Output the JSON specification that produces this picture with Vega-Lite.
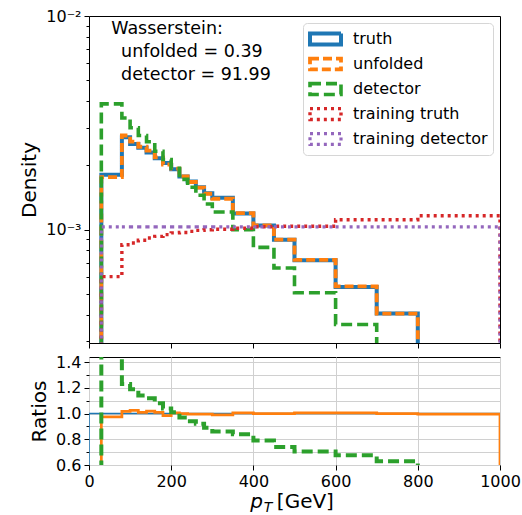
{
"$schema": "https://vega.github.io/schema/vega-lite/v6.json",
"padding": {"left": 19, "top": 7, "right": 0, "bottom": 3},
"background": "white",
"spacing": 4,
"config": {
  "font": "DejaVu Sans",
  "view": {"stroke": "black", "strokeWidth": 1},
  "axis": {"domain": false, "labelFont": "DejaVu Sans", "labelFontSize": 16, "labelColor": "black", "labelOverlap": false, "labelFlush": false, "tickColor": "black", "tickWidth": 1, "titleFont": "DejaVu Sans", "titleFontSize": 20, "titleFontWeight": "normal", "titleColor": "black", "labelPadding": 3, "grid": false, "gridColor": "#d0d0d0", "gridWidth": 1},
  "legend": {"orient": "top-right", "offset": 7, "labelFont": "DejaVu Sans", "labelFontSize": 16, "labelColor": "black", "symbolType": "M-1,-0.35H1V0.35H-1Z", "symbolSize": 961, "symbolStrokeWidth": 3, "symbolFillColor": "transparent", "clipHeight": 22, "rowPadding": 3, "padding": 5, "fillColor": "white", "strokeColor": "#d6d6d6", "cornerRadius": 4, "labelOffset": 10}
},
"datasets": {
"top": [
{"s":"truth","x":30,"y":0.0001,"i":0},
{"s":"truth","x":30,"y":0.001807,"i":1},
{"s":"truth","x":80,"y":0.00271,"i":2},
{"s":"truth","x":100,"y":0.00252,"i":3},
{"s":"truth","x":120,"y":0.00242,"i":4},
{"s":"truth","x":140,"y":0.0023,"i":5},
{"s":"truth","x":160,"y":0.00216,"i":6},
{"s":"truth","x":180,"y":0.00205,"i":7},
{"s":"truth","x":200,"y":0.00192,"i":8},
{"s":"truth","x":220,"y":0.001775,"i":9},
{"s":"truth","x":240,"y":0.00168,"i":10},
{"s":"truth","x":260,"y":0.00158,"i":11},
{"s":"truth","x":280,"y":0.00148,"i":12},
{"s":"truth","x":300,"y":0.00141,"i":13},
{"s":"truth","x":350,"y":0.00119,"i":14},
{"s":"truth","x":400,"y":0.001047,"i":15},
{"s":"truth","x":450,"y":0.000898,"i":16},
{"s":"truth","x":500,"y":0.000719,"i":17},
{"s":"truth","x":600,"y":0.00054,"i":18},
{"s":"truth","x":700,"y":0.000405,"i":19},
{"s":"truth","x":800,"y":0.00027,"i":20},
{"s":"truth","x":1000,"y":0.00027,"i":21},
{"s":"truth","x":1000,"y":0.0001,"i":22},
{"s":"unfolded","x":30,"y":0.0001,"i":0},
{"s":"unfolded","x":30,"y":0.001762,"i":1},
{"s":"unfolded","x":80,"y":0.002759,"i":2},
{"s":"unfolded","x":100,"y":0.002583,"i":3},
{"s":"unfolded","x":120,"y":0.002444,"i":4},
{"s":"unfolded","x":140,"y":0.002346,"i":5},
{"s":"unfolded","x":160,"y":0.002182,"i":6},
{"s":"unfolded","x":180,"y":0.002019,"i":7},
{"s":"unfolded","x":200,"y":0.00193,"i":8},
{"s":"unfolded","x":220,"y":0.001775,"i":9},
{"s":"unfolded","x":240,"y":0.001672,"i":10},
{"s":"unfolded","x":260,"y":0.001572,"i":11},
{"s":"unfolded","x":280,"y":0.001473,"i":12},
{"s":"unfolded","x":300,"y":0.001396,"i":13},
{"s":"unfolded","x":350,"y":0.001196,"i":14},
{"s":"unfolded","x":400,"y":0.001047,"i":15},
{"s":"unfolded","x":450,"y":0.000898,"i":16},
{"s":"unfolded","x":500,"y":0.000723,"i":17},
{"s":"unfolded","x":600,"y":0.000543,"i":18},
{"s":"unfolded","x":700,"y":0.000405,"i":19},
{"s":"unfolded","x":800,"y":0.000269,"i":20},
{"s":"unfolded","x":1000,"y":0.000269,"i":21},
{"s":"unfolded","x":1000,"y":0.0001,"i":22},
{"s":"detector","x":30,"y":0.0001,"i":0},
{"s":"detector","x":30,"y":0.00388,"i":1},
{"s":"detector","x":80,"y":0.00333,"i":2},
{"s":"detector","x":100,"y":0.003,"i":3},
{"s":"detector","x":120,"y":0.00276,"i":4},
{"s":"detector","x":140,"y":0.00258,"i":5},
{"s":"detector","x":160,"y":0.00233,"i":6},
{"s":"detector","x":180,"y":0.00213,"i":7},
{"s":"detector","x":200,"y":0.00194,"i":8},
{"s":"detector","x":220,"y":0.00172,"i":9},
{"s":"detector","x":240,"y":0.00158,"i":10},
{"s":"detector","x":260,"y":0.00145,"i":11},
{"s":"detector","x":280,"y":0.00132,"i":12},
{"s":"detector","x":300,"y":0.00121,"i":13},
{"s":"detector","x":350,"y":0.001,"i":14},
{"s":"detector","x":400,"y":0.000827,"i":15},
{"s":"detector","x":450,"y":0.000662,"i":16},
{"s":"detector","x":500,"y":0.000507,"i":17},
{"s":"detector","x":600,"y":0.00036,"i":18},
{"s":"detector","x":700,"y":0.000255,"i":19},
{"s":"detector","x":800,"y":0.00013,"i":20},
{"s":"detector","x":1000,"y":0.00013,"i":21},
{"s":"detector","x":1000,"y":0.0001,"i":22},
{"s":"training truth","x":30,"y":0.0001,"i":0},
{"s":"training truth","x":30,"y":0.000603,"i":1},
{"s":"training truth","x":80,"y":0.000851,"i":2},
{"s":"training truth","x":100,"y":0.000867,"i":3},
{"s":"training truth","x":120,"y":0.000892,"i":4},
{"s":"training truth","x":140,"y":0.000915,"i":5},
{"s":"training truth","x":160,"y":0.000931,"i":6},
{"s":"training truth","x":180,"y":0.000948,"i":7},
{"s":"training truth","x":200,"y":0.000966,"i":8},
{"s":"training truth","x":220,"y":0.000971,"i":9},
{"s":"training truth","x":240,"y":0.000982,"i":10},
{"s":"training truth","x":260,"y":0.000993,"i":11},
{"s":"training truth","x":280,"y":0.001,"i":12},
{"s":"training truth","x":300,"y":0.001005,"i":13},
{"s":"training truth","x":350,"y":0.001016,"i":14},
{"s":"training truth","x":400,"y":0.001033,"i":15},
{"s":"training truth","x":450,"y":0.001038,"i":16},
{"s":"training truth","x":500,"y":0.001038,"i":17},
{"s":"training truth","x":600,"y":0.001114,"i":18},
{"s":"training truth","x":700,"y":0.001114,"i":19},
{"s":"training truth","x":800,"y":0.001162,"i":20},
{"s":"training truth","x":1000,"y":0.001162,"i":21},
{"s":"training truth","x":1000,"y":0.0001,"i":22},
{"s":"training detector","x":30,"y":0.0001,"i":0},
{"s":"training detector","x":30,"y":0.001031,"i":1},
{"s":"training detector","x":80,"y":0.001031,"i":2},
{"s":"training detector","x":100,"y":0.001031,"i":3},
{"s":"training detector","x":120,"y":0.001031,"i":4},
{"s":"training detector","x":140,"y":0.001031,"i":5},
{"s":"training detector","x":160,"y":0.001031,"i":6},
{"s":"training detector","x":180,"y":0.001031,"i":7},
{"s":"training detector","x":200,"y":0.001031,"i":8},
{"s":"training detector","x":220,"y":0.001031,"i":9},
{"s":"training detector","x":240,"y":0.001031,"i":10},
{"s":"training detector","x":260,"y":0.001031,"i":11},
{"s":"training detector","x":280,"y":0.001031,"i":12},
{"s":"training detector","x":300,"y":0.001031,"i":13},
{"s":"training detector","x":350,"y":0.001031,"i":14},
{"s":"training detector","x":400,"y":0.001031,"i":15},
{"s":"training detector","x":450,"y":0.001031,"i":16},
{"s":"training detector","x":500,"y":0.001031,"i":17},
{"s":"training detector","x":600,"y":0.001031,"i":18},
{"s":"training detector","x":700,"y":0.001031,"i":19},
{"s":"training detector","x":800,"y":0.001031,"i":20},
{"s":"training detector","x":1000,"y":0.001031,"i":21},
{"s":"training detector","x":1000,"y":0.0001,"i":22}
],
"ratio": [
{"s":"truth","x":0,"y":0.3,"i":0},
{"s":"truth","x":0,"y":1,"i":1},
{"s":"truth","x":1000,"y":1,"i":2},
{"s":"truth","x":1000,"y":0.3,"i":3},
{"s":"unfolded","x":30,"y":0.3,"i":0},
{"s":"unfolded","x":30,"y":0.975,"i":1},
{"s":"unfolded","x":80,"y":1.018,"i":2},
{"s":"unfolded","x":100,"y":1.025,"i":3},
{"s":"unfolded","x":120,"y":1.01,"i":4},
{"s":"unfolded","x":140,"y":1.02,"i":5},
{"s":"unfolded","x":160,"y":1.01,"i":6},
{"s":"unfolded","x":180,"y":0.985,"i":7},
{"s":"unfolded","x":200,"y":1.005,"i":8},
{"s":"unfolded","x":220,"y":1.0,"i":9},
{"s":"unfolded","x":240,"y":0.995,"i":10},
{"s":"unfolded","x":260,"y":0.995,"i":11},
{"s":"unfolded","x":280,"y":0.995,"i":12},
{"s":"unfolded","x":300,"y":0.99,"i":13},
{"s":"unfolded","x":350,"y":1.005,"i":14},
{"s":"unfolded","x":400,"y":1.0,"i":15},
{"s":"unfolded","x":450,"y":1.0,"i":16},
{"s":"unfolded","x":500,"y":1.005,"i":17},
{"s":"unfolded","x":600,"y":1.005,"i":18},
{"s":"unfolded","x":700,"y":1.0,"i":19},
{"s":"unfolded","x":800,"y":0.995,"i":20},
{"s":"unfolded","x":1000,"y":0.995,"i":21},
{"s":"unfolded","x":1000,"y":0.3,"i":22},
{"s":"detector","x":30,"y":0.3,"i":0},
{"s":"detector","x":30,"y":2.15,"i":1},
{"s":"detector","x":80,"y":1.23,"i":2},
{"s":"detector","x":100,"y":1.19,"i":3},
{"s":"detector","x":120,"y":1.14,"i":4},
{"s":"detector","x":140,"y":1.12,"i":5},
{"s":"detector","x":160,"y":1.08,"i":6},
{"s":"detector","x":180,"y":1.04,"i":7},
{"s":"detector","x":200,"y":1.01,"i":8},
{"s":"detector","x":220,"y":0.97,"i":9},
{"s":"detector","x":240,"y":0.94,"i":10},
{"s":"detector","x":260,"y":0.92,"i":11},
{"s":"detector","x":280,"y":0.89,"i":12},
{"s":"detector","x":300,"y":0.86,"i":13},
{"s":"detector","x":350,"y":0.84,"i":14},
{"s":"detector","x":400,"y":0.79,"i":15},
{"s":"detector","x":450,"y":0.74,"i":16},
{"s":"detector","x":500,"y":0.705,"i":17},
{"s":"detector","x":600,"y":0.675,"i":18},
{"s":"detector","x":700,"y":0.63,"i":19},
{"s":"detector","x":800,"y":0.48,"i":20},
{"s":"detector","x":1000,"y":0.48,"i":21},
{"s":"detector","x":1000,"y":0.3,"i":22}
]
},
"resolve": {"scale": {"color": "independent", "strokeDash": "independent", "strokeWidth": "independent"}, "legend": {"color": "independent", "strokeDash": "independent"}},
"vconcat": [
{
  "width": 411, "height": 327,
  "layer": [
    {
      "data": {"name": "top"},
      "mark": {"type": "line", "interpolate": "step-after", "clip": true, "strokeCap": "butt", "strokeJoin": "miter"},
      "encoding": {
        "x": {"field": "x", "type": "quantitative", "scale": {"domain": [0, 1000], "nice": false}, "axis": {"values": [0, 200, 400, 600, 800, 1000], "labels": false, "title": null, "tickSize": 5}},
        "y": {"field": "y", "type": "quantitative", "scale": {"type": "log", "domain": [0.000295, 0.01], "nice": false}, "axis": {"title": "Density", "titlePadding": 6, "labelOverlap": false, "tickCount": 40, "values": [0.0003, 0.0004, 0.0005, 0.0006, 0.0007, 0.0008, 0.0009, 0.001, 0.002, 0.003, 0.004, 0.005, 0.006, 0.007, 0.008, 0.009, 0.01], "labelExpr": "datum.value == 0.01 ? '10⁻²' : (datum.value == 0.001 ? '10⁻³' : '')", "labelFontSize": {"condition": {"test": "datum.value == 0.01 || datum.value == 0.001", "value": 16}, "value": 0}, "tickSize": {"condition": {"test": "datum.value == 0.01 || datum.value == 0.001", "value": 5}, "value": 3}}},
        "order": {"field": "i", "type": "quantitative"},
        "color": {"field": "s", "type": "nominal", "scale": {"domain": ["truth", "unfolded", "detector", "training truth", "training detector"], "range": ["#1f77b4", "#ff7f0e", "#2ca02c", "#d62728", "#9467bd"]}, "legend": {"title": null}},
        "strokeDash": {"field": "s", "type": "nominal", "scale": {"domain": ["truth", "unfolded", "detector", "training truth", "training detector"], "range": [[1, 0], [9, 4], [11, 5], [3, 4], [3, 4]]}, "legend": {"title": null}},
        "strokeWidth": {"field": "s", "type": "ordinal", "scale": {"domain": ["truth", "unfolded", "detector", "training truth", "training detector"], "range": [4, 3.2, 3, 3, 3]}, "legend": null}
      }
    },
    {
      "data": {"values": [{}]},
      "mark": {"type": "text", "align": "left", "baseline": "top", "font": "DejaVu Sans", "fontSize": 17.5, "color": "black", "text": "Wasserstein:"},
      "encoding": {"x": {"datum": 54}, "y": {"datum": 0.0096}}
    },
    {
      "data": {"values": [{}]},
      "mark": {"type": "text", "align": "left", "baseline": "top", "font": "DejaVu Sans", "fontSize": 17.5, "lineHeight": 23, "color": "black", "text": ["unfolded = 0.39", "detector = 91.99"]},
      "encoding": {"x": {"datum": 78}, "y": {"datum": 0.00747}}
    }
  ]
},
{
  "width": 411, "height": 108,
  "layer": [
    {
      "data": {"name": "ratio"},
      "mark": {"type": "line", "interpolate": "step-after", "clip": true, "strokeCap": "butt", "strokeJoin": "miter"},
      "encoding": {
        "x": {"field": "x", "type": "quantitative", "scale": {"domain": [0, 1000], "nice": false}, "axis": {"values": [0, 200, 400, 600, 800, 1000], "tickCount": 20, "format": "d", "labelOverlap": false, "grid": true, "title": null, "tickSize": 5}},
        "y": {"field": "y", "type": "quantitative", "scale": {"domain": [0.6, 1.44], "nice": false, "zero": false}, "axis": {"title": "Ratios", "titlePadding": 6, "grid": true, "labelOverlap": false, "tickCount": 40, "values": [0.6, 0.7, 0.8, 0.9, 1.0, 1.1, 1.2, 1.3, 1.4], "labelExpr": "round(datum.value * 10) % 2 == 0 ? format(datum.value, '.1f') : ''", "labelFontSize": {"condition": {"test": "round(datum.value * 10) % 2 == 0", "value": 16}, "value": 0}, "tickSize": {"condition": {"test": "round(datum.value * 10) % 2 == 0", "value": 5}, "value": 3}}},
        "order": {"field": "i", "type": "quantitative"},
        "color": {"field": "s", "type": "nominal", "scale": {"domain": ["truth", "unfolded", "detector"], "range": ["#1f77b4", "#ff7f0e", "#2ca02c"]}, "legend": null},
        "strokeDash": {"field": "s", "type": "nominal", "scale": {"domain": ["truth", "unfolded", "detector"], "range": [[1, 0], [1, 0], [11, 5]]}, "legend": null},
        "strokeWidth": {"field": "s", "type": "ordinal", "scale": {"domain": ["truth", "unfolded", "detector"], "range": [1.5, 4, 3]}, "legend": null}
      }
    },
    {
      "data": {"values": [{}]},
      "mark": {"type": "text", "align": "center", "baseline": "alphabetic", "font": "DejaVu Sans", "fontSize": 20, "fontStyle": "italic", "color": "black", "text": "p"},
      "encoding": {"x": {"datum": 408}, "y": {"datum": 0.262}}
    },
    {
      "data": {"values": [{}]},
      "mark": {"type": "text", "align": "left", "baseline": "alphabetic", "font": "DejaVu Sans", "fontSize": 14, "fontStyle": "italic", "color": "black", "text": "T"},
      "encoding": {"x": {"datum": 425}, "y": {"datum": 0.234}}
    },
    {
      "data": {"values": [{}]},
      "mark": {"type": "text", "align": "left", "baseline": "alphabetic", "font": "DejaVu Sans", "fontSize": 20, "color": "black", "text": "[GeV]"},
      "encoding": {"x": {"datum": 457}, "y": {"datum": 0.262}}
    }
  ]
}
]
}
